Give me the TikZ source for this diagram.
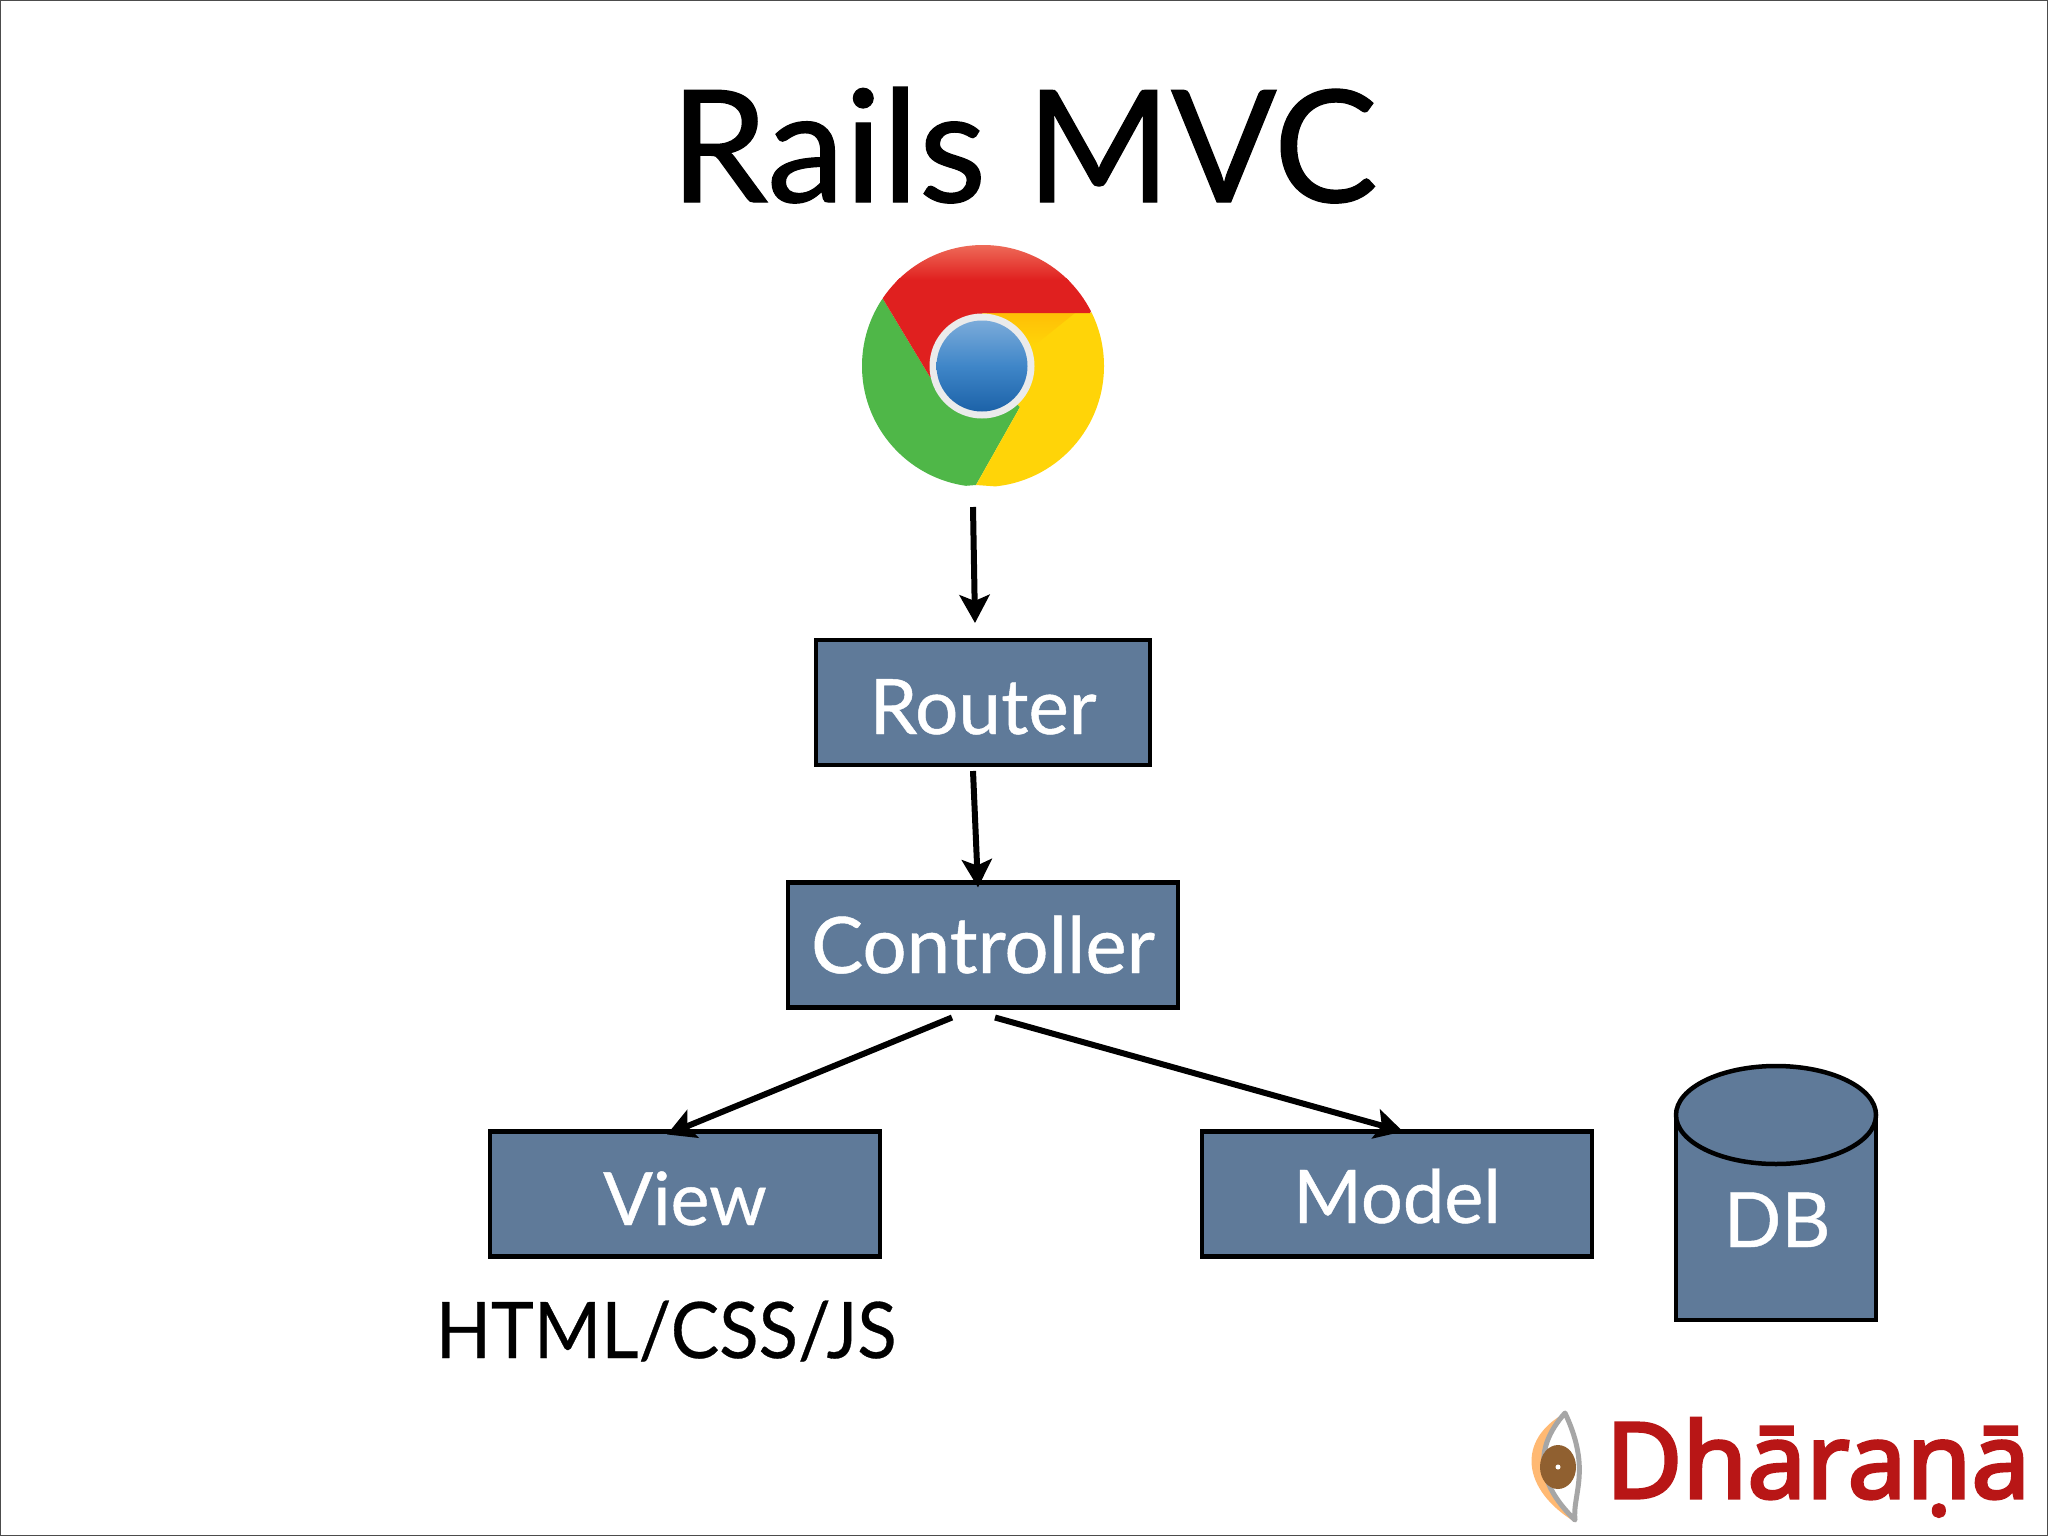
\documentclass[tikz,border=0pt]{standalone}
\usepackage{fontspec}
\setmainfont{Lato}
\newfontfamily\titlefam[FakeBold=0.8]{Lato}
\newfontfamily\logofont[FakeBold=3]{Noto Sans}
\newfontfamily\boxfam[FakeBold=0.6]{Lato}
\newfontfamily\narrowfam[FakeStretch=0.93,FakeBold=0.4]{Lato}
\usetikzlibrary{arrows.meta}
\definecolor{slate}{HTML}{5F7A99}
\definecolor{cred}{HTML}{E0201F}
\definecolor{credtop}{HTML}{EE6A58}
\definecolor{cgreen}{HTML}{4FB748}
\definecolor{cyellow}{HTML}{FFD408}
\definecolor{cblueT}{HTML}{7BABDA}
\definecolor{cblueM}{HTML}{3F86C8}
\definecolor{cblueB}{HTML}{1C62A8}
\definecolor{logored}{HTML}{B81616}
\tikzset{
  boxnode/.style={draw=black,fill=slate,line width=4.5pt,inner sep=0pt,outer sep=0pt,
    minimum width=#1,minimum height=125pt,text=white,text depth=0pt},
  arr/.style={line width=6pt,-{Stealth[length=28pt,width=30pt,inset=6pt]}},
  plain/.style={inner sep=0pt,outer sep=0pt,anchor=base}
}
\begin{document}
\begin{tikzpicture}[x=1pt,y=-1pt]
\useasboundingbox (0,0) rectangle (2048,1536);
\fill[white] (0,0) rectangle (2048,1536);
\draw[line width=2pt,draw=black!70] (0,0) rectangle (2048,1536);

\node[plain,font=\titlefam\fontsize{156}{156}\selectfont] (title) at (1024,202) {Rails MVC};

% browser icon
\node[circle,minimum size=242pt,inner sep=0pt,outer sep=0pt] (chrome) at (983,366) {};
\begin{scope}
  \clip (983,366) circle [radius=121pt];
  \fill[cgreen] (982,366)--(930,377)--(883,299)--(850,300)--(850,495)--(976,485)--(1020,407)--cycle;
  \fill[cyellow] (982,366)--(982,313)--(1090,313)--(1115,300)--(1115,495)--(976,485)--(1020,407)--cycle;
  \shade[top color=cyellow!75!orange,bottom color=cyellow] (985,313)--(1075,313)--(1035,345)--cycle;
  \fill[cred] (930,377)--(883,299)--(870,278)--(1110,278)--(1090,313)--(982,313)--(982,366)--cycle;
  \shade[top color=credtop,bottom color=cred] (850,245) rectangle (1115,280);
\end{scope}
\fill[white!92!black] (982,366) circle [radius=52.5pt];
\shade[top color=cblueT,bottom color=cblueB,middle color=cblueM]
  (982,366) circle [radius=45.5pt];

% boxes
\node[boxnode=334pt,font=\boxfam\fontsize{76.5}{76.5}\selectfont,text height=63pt] (router) at (983,702.5) {Router};
\node[boxnode=390pt,font=\boxfam\fontsize{78}{78}\selectfont,text height=56pt] (controller) at (983,945) {Controller};
\node[boxnode=390pt,font=\boxfam\fontsize{73.5}{73.5}\selectfont,text height=62pt] (view) at (685,1194) {View};
\node[boxnode=390pt,font=\boxfam\fontsize{74}{74}\selectfont,text height=58pt] (model) at (1397,1194) {Model};

% database
\fill[slate] (1676,1114)--(1676,1320)--(1876,1320)--(1876,1114)--cycle;
\draw[line width=4.5pt,line join=miter] (1676,1114)--(1676,1320)--(1876,1320)--(1876,1114);
\draw[line width=4.5pt,fill=slate] (1776,1115) ellipse [x radius=100pt,y radius=49pt];
\node[plain,text=white,font=\boxfam\fontsize{76}{76}\selectfont] (db) at (1777,1247) {DB};

\node[plain,font=\narrowfam\fontsize{78}{78}\selectfont] (tech) at (666,1358) {HTML/CSS/JS};

% connectors
\draw[arr] ([shift={(-10,20)}]chrome.south) -- ([shift={(-8,-17)}]router.north);
\draw[arr] ([shift={(-10,6)}]router.south) -- ([shift={(-5,5)}]controller.north);
\draw[arr] ([shift={(-31,10)}]controller.south) -- ([shift={(-18,3)}]view.north);
\draw[arr] ([shift={(12,10)}]controller.south) -- ([shift={(6,0)}]model.north);

% logo
\begin{scope}
  \fill[orange!55!white] (1565,1413) .. controls (1516,1440) and (1522,1490) .. (1575,1522)
     .. controls (1545,1490) and (1535,1445) .. (1565,1413) -- cycle;
  \draw[line width=5pt,black!35,line join=round] (1565,1413) .. controls (1532,1450) and (1539,1485) .. (1575,1520)
     .. controls (1572,1495) and (1592,1470) .. (1565,1413) -- cycle;
  \fill[brown!75!black] (1558,1467) ellipse [x radius=18pt,y radius=22pt];
  \fill[white] (1558,1467) circle [radius=2.5pt];
\end{scope}
\node[plain,text=logored,font=\logofont\fontsize{105}{105}\selectfont] (logo) at (1818,1498) {Dhāraṇā};
\end{tikzpicture}
\end{document}
